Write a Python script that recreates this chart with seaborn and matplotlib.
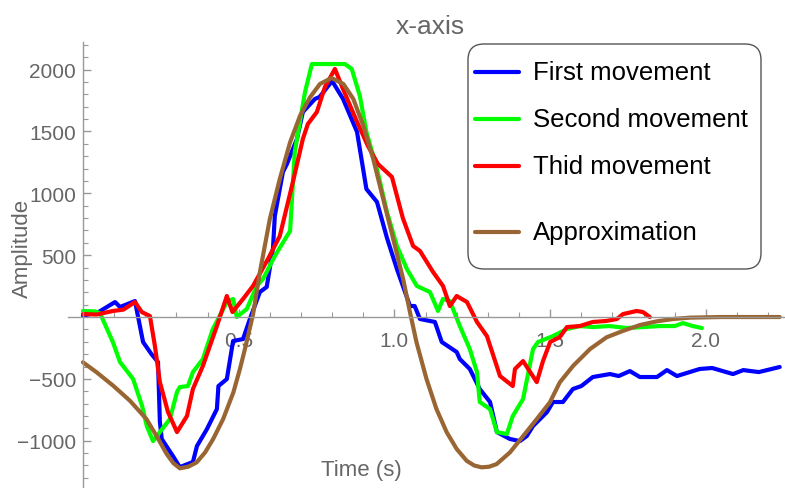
import numpy as np
import pandas as pd
import seaborn as sns
import matplotlib.pyplot as plt
from matplotlib.ticker import FixedLocator, FixedFormatter, MultipleLocator
from matplotlib.lines import Line2D
from matplotlib.patches import FancyBboxPatch
from matplotlib.transforms import IdentityTransform

# data (time in s, amplitude)
t_first = [0.0, 0.05, 0.103, 0.119, 0.167, 0.193, 0.22, 0.241, 0.247, 0.253, 0.289, 0.311, 0.353, 0.366,
           0.398, 0.43, 0.435, 0.462, 0.482, 0.514, 0.536, 0.568, 0.59, 0.61, 0.616, 0.642, 0.655, 0.687,
           0.706, 0.745, 0.76, 0.8, 0.835, 0.88, 0.91, 0.944, 0.976, 1.008, 1.05, 1.065, 1.082, 1.13, 1.152,
           1.2, 1.21, 1.242, 1.274, 1.307, 1.329, 1.371, 1.403, 1.425, 1.445, 1.49, 1.509, 1.541, 1.573, 1.6,
           1.637, 1.692, 1.72, 1.756, 1.788, 1.843, 1.875, 1.907, 1.98, 2.02, 2.087, 2.12, 2.17, 2.237]
v_first = [10, 40, 121, 81, 129, -202, -300, -364, -849, -986, -1124, -1213, -1172, -1043,
           -906, -744, -558, -501, -194, -178, -16, 202, 243, 550, 817, 1172, 1237, 1439,
           1657, 1763, 1779, 1908, 1763, 1496, 1035, 930, 640, 388, 89, 89, -16, -40, -202,
           -283, -340, -420, -582, -687, -930, -986, -1003, -962, -881, -768, -687, -687, -582, -558,
           -485, -461, -477, -437, -485, -485, -429, -477, -420, -412, -461, -429, -445, -404]

t_second = [0.0, 0.04, 0.055, 0.096, 0.119, 0.161, 0.19, 0.205, 0.225, 0.247, 0.279, 0.302, 0.311, 0.337,
            0.353, 0.385, 0.417, 0.462, 0.482, 0.494, 0.526, 0.558, 0.578, 0.616, 0.655, 0.665, 0.68, 0.713,
            0.735, 0.841, 0.863, 0.889, 0.91, 0.944, 0.976, 1.008, 1.04, 1.072, 1.114, 1.14, 1.156, 1.178,
            1.21, 1.242, 1.265, 1.274, 1.307, 1.329, 1.361, 1.38, 1.413, 1.445, 1.461, 1.509, 1.554, 1.595,
            1.637, 1.69, 1.746, 1.8, 1.852, 1.9, 1.926, 1.958, 1.987]
v_second = [49, 45, 30, -202, -364, -501, -720, -881, -1003, -930, -825, -606, -566, -558,
            -445, -340, -97, 121, 146, 0, 65, 251, 307, 493, 655, 695, 1334, 1819,
            2045, 2045, 2005, 1787, 1496, 1197, 849, 574, 388, 251, 202, 49, 146, 129,
            -73, -259, -445, -687, -744, -930, -946, -800, -663, -259, -202, -154, -97, -73,
            -81, -73, -89, -81, -73, -73, -49, -73, -89]

t_third = [0.0, 0.045, 0.096, 0.13, 0.167, 0.189, 0.215, 0.231, 0.247, 0.273, 0.302, 0.334, 0.353, 0.385,
           0.43, 0.462, 0.48, 0.514, 0.546, 0.594, 0.632, 0.674, 0.706, 0.722, 0.751, 0.777, 0.809, 0.835,
           0.88, 0.915, 0.947, 0.992, 1.027, 1.06, 1.082, 1.124, 1.156, 1.178, 1.2, 1.233, 1.265, 1.297,
           1.339, 1.38, 1.387, 1.413, 1.457, 1.477, 1.5, 1.531, 1.554, 1.595, 1.637, 1.68, 1.714, 1.734,
           1.778, 1.798, 1.82]
v_third = [24, 20, 49, 60, 121, 40, 8, -234, -526, -768, -930, -800, -582, -396,
           -73, 170, 40, 146, 251, 469, 655, 1091, 1439, 1560, 1657, 1860, 2005, 1843,
           1577, 1383, 1237, 1132, 800, 574, 534, 364, 251, 89, 170, 121, -40, -154,
           -477, -558, -420, -356, -526, -356, -202, -162, -81, -73, -40, -32, -16, 24,
           49, 40, 0]

t_approx = [0.0, 0.044, 0.097, 0.151, 0.204, 0.236, 0.269, 0.29, 0.311, 0.338, 0.365, 0.392, 0.418, 0.45,
            0.483, 0.504, 0.52, 0.546, 0.568, 0.6, 0.632, 0.665, 0.697, 0.729, 0.761, 0.798, 0.836, 0.868,
            0.9, 0.932, 0.964, 0.996, 1.028, 1.05, 1.071, 1.103, 1.135, 1.168, 1.2, 1.232, 1.256, 1.28,
            1.304, 1.328, 1.371, 1.414, 1.457, 1.499, 1.531, 1.574, 1.628, 1.681, 1.735, 1.788, 1.842,
            1.895, 1.949, 2.05, 2.237]
v_approx = [-366, -447, -555, -677, -825, -960, -1108, -1180, -1223, -1210, -1175, -1095, -986, -825,
            -609, -420, -259, 20, 361, 792, 1116, 1412, 1627, 1776, 1884, 1932, 1884, 1763,
            1547, 1277, 954, 631, 307, 38, -205, -501, -744, -932, -1067, -1162, -1200, -1215,
            -1210, -1189, -1094, -960, -825, -690, -528, -394, -259, -164, -111, -65, -35,
            -16, -5, 0, 0]

series_names = ['First movement', 'Second movement', 'Thid movement', 'Approximation']
series_colors = ['#0000ff', '#00ff00', '#ff0000', '#996633']

y_ticks = [-1000, -500, 500, 1000, 1500, 2000]
y_labels = ['\u22121000', '\u2212500', '500', '1000', '1500', '2000']
x_ticks = [0.5, 1.0, 1.5, 2.0]
x_labels = ['0.5', '1.0', '1.5', '2.0']

# long table for seaborn
frames = []
for name, t, v in zip(series_names, [t_first, t_second, t_third, t_approx],
                      [v_first, v_second, v_third, v_approx]):
    frames.append(pd.DataFrame({'time': t, 'amplitude': v, 'series': name}))
df = pd.concat(frames, ignore_index=True)

sns.set_theme(style='white')
plt.rcParams['font.family'] = ['Liberation Sans', 'DejaVu Sans']

W, H = 785, 489
fig = plt.figure(figsize=(W / 100, H / 100), dpi=100)
ax = fig.add_axes([68 / W, 0, 717 / W, 446 / H])

sns.lineplot(data=df, x='time', y='amplitude', hue='series', hue_order=series_names,
             palette=dict(zip(series_names, series_colors)), estimator=None, sort=False,
             linewidth=3, legend=False, ax=ax)

ax.set_xlim(-0.048, 2.254)
ax.set_ylim(-1382, 2223)
ax.set_xlabel('')
ax.set_ylabel('')

# mathematica-like axes through the origin
axis_grey = '#999999'
text_grey = '#666666'
for s in ['top', 'right']:
    ax.spines[s].set_visible(False)
ax.spines['left'].set_position(('data', 0))
ax.spines['bottom'].set_position(('data', 0))
for s in ['left', 'bottom']:
    ax.spines[s].set_color(axis_grey)
    ax.spines[s].set_linewidth(1)

ax.yaxis.set_major_locator(FixedLocator(y_ticks))
ax.yaxis.set_major_formatter(FixedFormatter(y_labels))
ax.yaxis.set_minor_locator(MultipleLocator(100))
ax.xaxis.set_major_locator(FixedLocator(x_ticks))
ax.xaxis.set_major_formatter(FixedFormatter(x_labels))
ax.xaxis.set_minor_locator(MultipleLocator(0.1))
ax.tick_params(which='both', direction='in', bottom=True, left=True,
               color=axis_grey, labelcolor=text_grey, labelsize=15)
ax.tick_params(which='major', length=6, width=1)
ax.tick_params(which='minor', length=3.5, width=0.8)
ax.tick_params(axis='x', pad=10)
ax.tick_params(axis='y', pad=5)

fig.text(430 / W, 1 - 27 / H, 'x-axis', ha='center', va='center', fontsize=19, color=text_grey)
fig.text(22 / W, 1 - 248 / H, 'Amplitude', ha='center', va='center', rotation=90, fontsize=16, color=text_grey)
fig.text(361 / W, 1 - 471 / H, 'Time (s)', ha='center', va='center', fontsize=16, color=text_grey)

# legend box drawn in pixel space
px = IdentityTransform()
box = FancyBboxPatch((468, H - 270), 293, 225, boxstyle='round,pad=0,rounding_size=16',
                     transform=px, facecolor='white', edgecolor='#555555', linewidth=1, zorder=5)
fig.add_artist(box)
for name, col, yy in zip(series_names, series_colors, [73, 120, 167, 233]):
    fig.add_artist(Line2D([475, 519], [H - yy, H - yy], transform=px, color=col, linewidth=3, zorder=6))
    fig.text(533 / W, 1 - yy / H, name, ha='left', va='center', fontsize=18.5, color='black', zorder=6)

fig.savefig('out.png', dpi=100)
